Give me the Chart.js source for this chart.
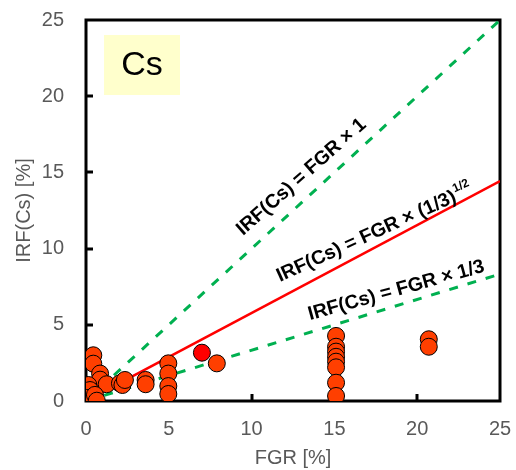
<!DOCTYPE html>
<html>
<head>
<meta charset="utf-8">
<script src="https://cdn.jsdelivr.net/npm/chart.js@4/dist/chart.umd.min.js"></script>
<style>
  html, body { margin: 0; padding: 0; background: #fff; }
</style>
</head>
<body>
<canvas id="chart" width="516" height="470"></canvas>
<script>
// Valores (FGR vs IRF de Cs, en %)
const fgr = [0.44, 0.44, 0.85, 0.85, 1.25, 0.14, 0.24, 0.04, 0.54, 0.65,
  2.05, 2.2, 2.35, 3.6, 3.6,
  4.97, 4.97, 4.97, 4.97,
  7.9,
  15.1, 15.1, 15.1, 15.1, 15.1, 15.1, 15.1, 15.1,
  20.7, 20.7];
const irf = [3.0, 2.45, 1.8, 1.4, 1.1, 1.05, 0.72, 0.2, 0.4, 0.02,
  1.16, 1.05, 1.38, 1.38, 1.1,
  2.47, 1.8, 0.98, 0.46,
  2.47,
  4.27, 3.56, 3.24, 2.9, 2.58, 2.21, 1.2, 0.33,
  4.05, 3.56];
// el único punto en rojo puro
const fgrRed = [7.0];
const irfRed = [3.17];

// rectas de referencia IRF = FGR × k
const lineX = [0, 25];
const lineOne = [0, 25];        // × 1
const lineSqrt = [0, 14.43];    // × (1/3)^1/2
const lineThird = [0, 8.33];    // × 1/3

const axisTicks = [0, 5, 10, 15, 20, 25];
const gray = '#595959';
const FONT = '"Liberation Sans", Arial, sans-serif';
Chart.defaults.font.family = FONT;

const pts = (xs, ys) => xs.map((x, i) => ({ x, y: ys[i] }));

// marco, ticks hacia adentro y recuadro "Cs"
const framePlugin = {
  id: 'frame',
  beforeDatasetsDraw(chart) {
    const { ctx, chartArea: a, scales: { x, y } } = chart;
    ctx.save();
    ctx.strokeStyle = '#000';
    ctx.lineWidth = 3;
    ctx.strokeRect(a.left, a.top, a.right - a.left, a.bottom - a.top);
    axisTicks.slice(1, -1).forEach((v) => {
      const px = Math.round(x.getPixelForValue(v));
      ctx.beginPath(); ctx.moveTo(px, a.bottom); ctx.lineTo(px, a.bottom - 7); ctx.stroke();
      const py = Math.round(y.getPixelForValue(v));
      ctx.beginPath(); ctx.moveTo(a.left, py); ctx.lineTo(a.left + 7, py); ctx.stroke();
    });
    // recuadro Cs
    ctx.fillStyle = '#FFFFCC';
    ctx.fillRect(a.left + 18, a.top + 15, 76, 60);
    ctx.fillStyle = '#000';
    ctx.font = `34px ${FONT}`;
    ctx.textAlign = 'center';
    ctx.textBaseline = 'middle';
    ctx.fillText('Cs', a.left + 56, a.top + 46);
    ctx.restore();
  },
};

// etiquetas rotadas de cada recta
const lineLabels = [
  { text: 'IRF(Cs) = FGR × 1', sup: '', at: [9.48, 10.83], angle: 41.5 },
  { text: 'IRF(Cs) = FGR × (1/3)', sup: '1/2', at: [11.71, 7.81], angle: 24.5 },
  { text: 'IRF(Cs) = FGR × 1/3', sup: '', at: [13.53, 5.31], angle: 15.5 },
];
const labelPlugin = {
  id: 'lineLabels',
  afterDraw(chart) {
    const { ctx, scales: { x, y } } = chart;
    lineLabels.forEach((l) => {
      ctx.save();
      ctx.translate(x.getPixelForValue(l.at[0]), y.getPixelForValue(l.at[1]));
      ctx.rotate(-l.angle * Math.PI / 180);
      ctx.fillStyle = '#000';
      ctx.font = `bold 19.5px ${FONT}`;
      ctx.textAlign = 'left';
      ctx.textBaseline = 'alphabetic';
      ctx.fillText(l.text, 0, 0);
      if (l.sup) {
        const w = ctx.measureText(l.text).width;
        ctx.font = `bold 12px ${FONT}`;
        ctx.fillText(l.sup, w + 1, -9);
      }
      ctx.restore();
    });
  },
};

const dashed = { borderColor: '#00B050', borderWidth: 3, borderDash: [9, 10], pointRadius: 0, order: 3 };

new Chart(document.getElementById('chart'), {
  type: 'scatter',
  data: {
    datasets: [
      { type: 'line', data: pts(lineX, lineOne), ...dashed },
      { type: 'line', data: pts(lineX, lineSqrt), borderColor: '#FF0000', borderWidth: 2.5, pointRadius: 0, order: 3 },
      { type: 'line', data: pts(lineX, lineThird), ...dashed },
      { data: pts(fgr, irf), backgroundColor: '#FF3F00', borderColor: '#000', borderWidth: 1, pointRadius: 8.5, order: 1 },
      { data: pts(fgrRed, irfRed), backgroundColor: '#FF0000', borderColor: '#000', borderWidth: 1, pointRadius: 8.5, order: 0 },
    ],
  },
  options: {
    responsive: false,
    animation: false,
    layout: { padding: { top: 20, right: 16, left: 0, bottom: 0 } },
    plugins: { legend: { display: false }, tooltip: { enabled: false } },
    scales: {
      x: {
        type: 'linear', min: 0, max: 25,
        afterFit(s) { s.height = 69; s.paddingLeft = 0; s.paddingRight = 0; },
        grid: { display: false, drawTicks: false },
        border: { display: false },
        ticks: { stepSize: 5, padding: 16, color: gray, font: { size: 20 } },
        title: { display: true, text: 'FGR [%]', color: gray, font: { size: 20 }, padding: { top: 0, bottom: 0 } },
      },
      y: {
        type: 'linear', min: 0, max: 25,
        afterFit(s) { s.width = 86; s.paddingTop = 0; s.paddingBottom = 0; },
        grid: { display: false, drawTicks: false },
        border: { display: false },
        ticks: { stepSize: 5, padding: 22, color: gray, font: { size: 20 } },
        title: { display: true, text: 'IRF(Cs) [%]', color: gray, font: { size: 20 }, padding: { top: 12, bottom: 0 } },
      },
    },
  },
  plugins: [framePlugin, labelPlugin],
});
</script>
</body>
</html>
